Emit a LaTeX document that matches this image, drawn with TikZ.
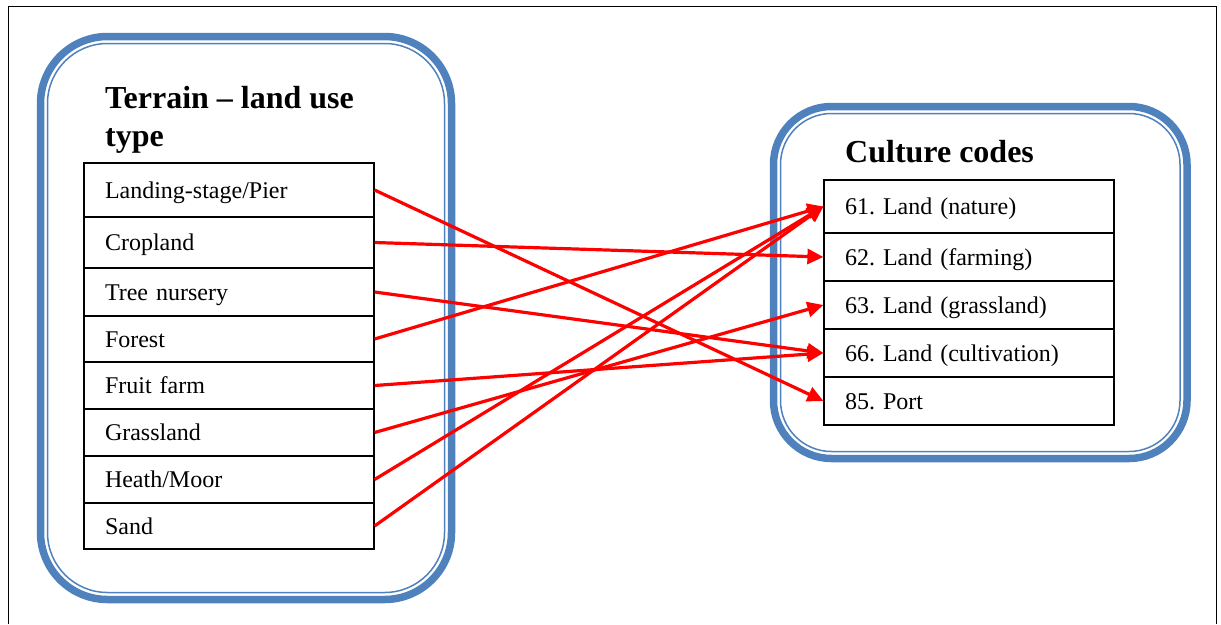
\documentclass[tikz,border=0pt]{standalone}
\usepackage{fontspec}
\setmainfont{Liberation Serif}
\usetikzlibrary{arrows.meta}

\definecolor{frameblue}{RGB}{79,129,189}
\definecolor{linkred}{RGB}{255,0,0}

\begin{document}
\frenchspacing
\begin{tikzpicture}[
  x=1pt, y=-1pt,
  frame/.style    ={draw=frameblue, line width=7.5pt},
  frameline/.style={draw=frameblue, line width=1.5pt},
  cell/.style     ={draw=black, line width=1.2pt, inner xsep=21pt, inner ysep=0pt,
                    text width=248pt, align=left, text height=20pt, text depth=4pt,
                    font=\fontsize{24}{28}\selectfont},
  heading/.style  ={anchor=north west, inner sep=0pt, align=left,
                    font=\fontsize{32}{38}\selectfont\bfseries},
  link/.style     ={-{Triangle[length=16pt,width=15pt]}, line width=3.2pt, draw=linkred},
]
\useasboundingbox (0,0) rectangle (1221,624);

% Page frame, open at the bottom.
\draw[line width=1pt] (8,624) -- (8,6) -- (1216,6) -- (1216,624);

% Rounded double frames.
\node[frame, rounded corners=67pt, minimum width=411pt, minimum height=563pt] (landbox) at (246,318) {};
\node[frameline, rounded corners=60pt, minimum width=397pt, minimum height=549pt] (landline) at (246,318) {};
\node[frame, rounded corners=58pt, minimum width=413.5pt, minimum height=352pt] (codebox) at (980.25,282.5) {};
\node[frameline, rounded corners=51pt, minimum width=399.5pt, minimum height=338pt] (codeline) at (980.25,282.5) {};

% Headings.
\node[heading] (landtitle) at (105,86) {Terrain -- land use\\type};
\node[heading] (codetitle) at (845,140) {Culture codes};

% Terrain -- land use type rows.
\node[cell, minimum height=54pt] (pier)    at (229,190)   {Landing-stage/Pier};
\node[cell, minimum height=51pt] (crop)    at (229,242.5) {Cropland};
\node[cell, minimum height=48pt] (nursery) at (229,292)   {Tree nursery};
\node[cell, minimum height=46pt] (forest)  at (229,339)   {Forest};
\node[cell, minimum height=47pt] (fruit)   at (229,385.5) {Fruit farm};
\node[cell, minimum height=47pt] (grass)   at (229,432.5) {Grassland};
\node[cell, minimum height=47pt] (heath)   at (229,479.5) {Heath/Moor};
\node[cell, minimum height=46pt] (sand)    at (229,526)   {Sand};

% Culture code rows.
\node[cell, minimum height=53pt] (nature)  at (969,206.5) {61. Land (nature)};
\node[cell, minimum height=48pt] (farming) at (969,257)   {62. Land (farming)};
\node[cell, minimum height=48pt] (meadow)  at (969,305)   {63. Land (grassland)};
\node[cell, minimum height=48pt] (cultiv)  at (969,353)   {66. Land (cultivation)};
\node[cell, minimum height=48pt] (port)    at (969,401)   {85. Port};

% Mapping arrows.
\draw[link] (pier.east)    -- (port.west);
\draw[link] (crop.east)    -- (farming.west);
\draw[link] (nursery.east) -- (cultiv.west);
\draw[link] (forest.east)  -- (nature.west);
\draw[link] (fruit.east)   -- (cultiv.west);
\draw[link] (grass.east)   -- (meadow.west);
\draw[link] (heath.east)   -- (nature.west);
\draw[link] (sand.east)    -- (nature.west);
\end{tikzpicture}
\end{document}
